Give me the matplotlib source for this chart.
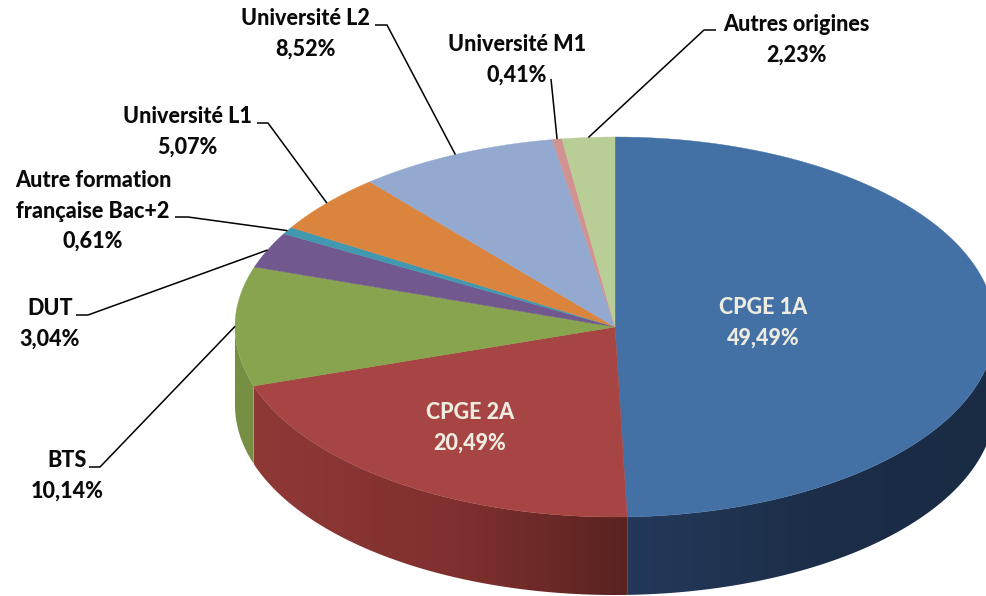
import numpy as np
import matplotlib
matplotlib.use("Agg")
import matplotlib.pyplot as plt
from matplotlib.colors import to_rgb
from matplotlib.patches import Polygon

names = ["CPGE 1A", "CPGE 2A", "BTS", "DUT", "Autre formation\nfrançaise Bac+2",
         "Université L1", "Université L2", "Université M1", "Autres origines"]
shares = [49.49, 20.49, 10.14, 3.04, 0.61, 5.07, 8.52, 0.41, 2.23]
shares_txt = ["49,49%", "20,49%", "10,14%", "3,04%", "0,61%", "5,07%", "8,52%", "0,41%", "2,23%"]
colors = ["#4471A5", "#A64543", "#89A44E", "#71588F", "#4198AF",
          "#DB843D", "#93A9CF", "#D19392", "#B9CD96"]

# side wall colours: left, middle, right of each visible slice
side_colors = {0: ("#24395A", "#1B2D47", "#1A2C44"),
               1: ("#8F3937", "#7F302E", "#5A2321"),
               2: ("#778F43", "#778F43", "#778F43")}

# pixel layout
cx, cy = 615, 327
rx, ry = 380, 190
depth = 78
label_pos = [(763, 323), (470, 428), (67, 476), (50, 324), (93, 211),
             (187, 132), (305, 34), (517, 60), (796, 40)]
# start of each leader and its elbow
leaders = {2: [(89, 467), (100, 467)], 3: [(76, 315), (88, 315)], 4: [(175, 217), (188, 217)],
           5: [(257, 123), (268, 123)], 6: [(375, 25), (387, 25)], 7: [(551, 79), (551, 79)],
           8: [(716, 30), (704, 30)]}


def ell(theta):
    return cx + rx * np.sin(theta), cy - ry * np.cos(theta)


fig = plt.figure(figsize=(9.87, 5.96), dpi=100)
ax = fig.add_axes([0, 0, 1, 1])
ax.axis("off")

edges = np.radians(np.concatenate([[0], np.cumsum(shares)]) * 3.6)

# side wall: a left to right gradient clipped to the slice's wall
for i in range(3):
    a0 = max(edges[i], np.pi / 2)
    a1 = min(edges[i + 1], 1.5 * np.pi)
    t = np.linspace(a0, a1, 240)
    x, y = ell(t)
    wall = Polygon(np.column_stack([np.r_[x, x[::-1]], np.r_[y, y[::-1] + depth]]),
                   closed=True, facecolor="none", edgecolor="none", transform=ax.transData)
    ax.add_patch(wall)
    f = np.linspace(0, 1, 64)
    stops = np.array([to_rgb(c) for c in side_colors[i]])
    grad = np.column_stack([np.interp(f, [0, 0.55, 1], stops[:, k]) for k in range(3)])
    im = ax.imshow(grad[None, :, :], extent=(x.min(), x.max(), y.max() + depth, y.min()),
                   aspect="auto", interpolation="bilinear")
    im.set_clip_path(wall)

ax.set_xlim(0, 987)
ax.set_ylim(596, 0)

# top surface
for i, c in enumerate(colors):
    t = np.linspace(edges[i], edges[i + 1], 200)
    x, y = ell(t)
    pts = np.column_stack([np.r_[cx, x], np.r_[cy, y]])
    ax.add_patch(Polygon(pts, closed=True, facecolor=c, edgecolor=c, lw=0.3))

# leaders end on the rim at the middle of the slice
for i, pts in leaders.items():
    mid = 0.5 * (edges[i] + edges[i + 1])
    ex, ey = ell(mid)
    xs = [p[0] for p in pts] + [ex]
    ys = [p[1] for p in pts] + [ey]
    ax.plot(xs, ys, color="black", lw=1.1, solid_capstyle="butt", solid_joinstyle="round")

for i, name in enumerate(names):
    tc = "#EEECE1" if i < 2 else "#0A0A0A"
    ax.text(label_pos[i][0], label_pos[i][1], name + "\n" + shares_txt[i], ha="center", va="center",
            multialignment="center", family="Lato", weight=900, fontsize=15.5,
            color=tc, linespacing=1.55)

fig.savefig("out.png", dpi=100)
